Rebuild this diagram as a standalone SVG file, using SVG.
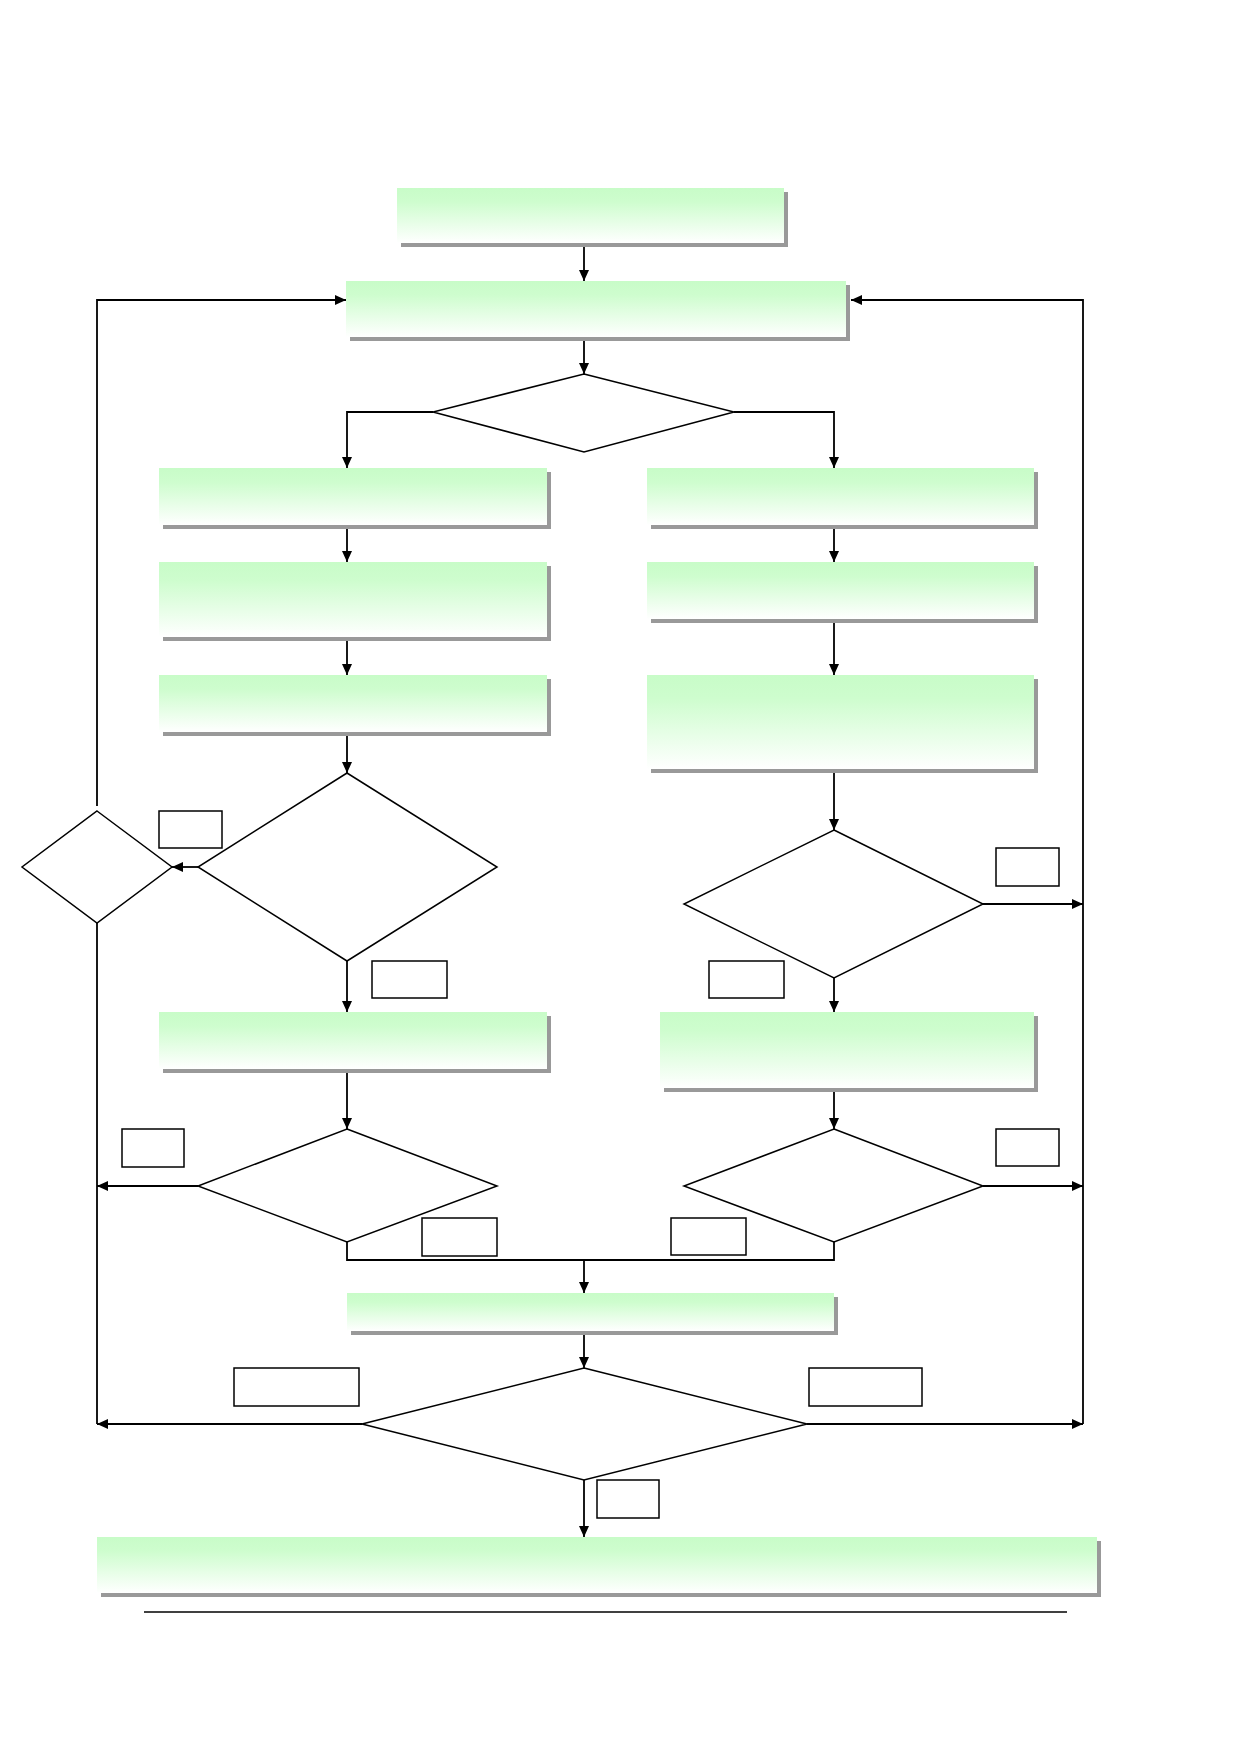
<svg xmlns="http://www.w3.org/2000/svg" width="1239" height="1752" viewBox="0 0 1239 1752">
<style>
.shadow{fill:#999999}
.box{fill:url(#g)}
.dia{fill:#ffffff;stroke:#000000;stroke-width:1.5}
.lbl{fill:#ffffff;stroke:#000000;stroke-width:1.5}
.c{fill:none;stroke:#000000;stroke-width:1.8}
.a{marker-end:url(#ah)}
</style>
<defs>
<linearGradient id="g" x1="0" y1="0" x2="0" y2="1">
<stop offset="0" stop-color="#c8fcc8"/>
<stop offset="0.25" stop-color="#cefdce"/>
<stop offset="1" stop-color="#ffffff"/>
</linearGradient>
<marker id="ah" markerUnits="userSpaceOnUse" markerWidth="12" markerHeight="10" refX="11" refY="5" orient="auto">
<path d="M0,0 L11,5 L0,10 z" fill="#000000"/>
</marker>
</defs>
<rect width="1239" height="1752" fill="#ffffff"/>

<g id="connectors">
<path class="c a" d="M584,247 V281"/>
<path class="c a" d="M97,806 V300 H346"/>
<path class="c a" d="M1083,1424 V300 H851"/>
<path class="c a" d="M584,341 V374"/>
<path class="c a" d="M433,412 H347 V468"/>
<path class="c a" d="M734,412 H834 V468"/>
<path class="c a" d="M347,529 V562"/>
<path class="c a" d="M347,641 V675"/>
<path class="c a" d="M347,736 V773"/>
<path class="c a" d="M198,867 H172"/>
<path class="c" d="M97,923 V1424"/>
<path class="c a" d="M347,961 V1012"/>
<path class="c a" d="M347,1073 V1129"/>
<path class="c a" d="M198,1186 H97"/>
<path class="c" d="M347,1242 V1260 H834 V1242"/>
<path class="c a" d="M584,1260 V1293"/>
<path class="c a" d="M834,529 V562"/>
<path class="c a" d="M834,623 V675"/>
<path class="c a" d="M834,773 V830"/>
<path class="c a" d="M983,904 H1083"/>
<path class="c a" d="M834,978 V1012"/>
<path class="c a" d="M834,1092 V1129"/>
<path class="c a" d="M983,1186 H1083"/>
<path class="c a" d="M584,1335 V1368"/>
<path class="c a" d="M362,1424 H97"/>
<path class="c a" d="M807,1424 H1083"/>
<path class="c a" d="M584,1480 V1537"/>
</g>

<g id="box-start"><rect class="shadow" x="401" y="192" width="387" height="55"/><rect class="box" x="397" y="188" width="387" height="55"/></g>
<g id="box-main"><rect class="shadow" x="350" y="285" width="500" height="56"/><rect class="box" x="346" y="281" width="500" height="56"/></g>
<g id="dec-top"><polygon class="dia" points="584,374 734,412 584,452 433,412"/></g>

<g id="box-l1"><rect class="shadow" x="163" y="472" width="388" height="57"/><rect class="box" x="159" y="468" width="388" height="57"/></g>
<g id="box-l2"><rect class="shadow" x="163" y="566" width="388" height="75"/><rect class="box" x="159" y="562" width="388" height="75"/></g>
<g id="box-l3"><rect class="shadow" x="163" y="679" width="388" height="57"/><rect class="box" x="159" y="675" width="388" height="57"/></g>
<g id="dec-l1"><polygon class="dia" points="347,773 497,867 347,961 198,867"/></g>
<g id="dec-side"><polygon class="dia" points="97,811 172,867 97,923 22,867"/></g>
<g id="box-l4"><rect class="shadow" x="163" y="1016" width="388" height="57"/><rect class="box" x="159" y="1012" width="388" height="57"/></g>
<g id="dec-l2"><polygon class="dia" points="347,1129 497,1186 347,1242 198,1186"/></g>

<g id="box-r1"><rect class="shadow" x="651" y="472" width="387" height="57"/><rect class="box" x="647" y="468" width="387" height="57"/></g>
<g id="box-r2"><rect class="shadow" x="651" y="566" width="387" height="57"/><rect class="box" x="647" y="562" width="387" height="57"/></g>
<g id="box-r3"><rect class="shadow" x="651" y="679" width="387" height="94"/><rect class="box" x="647" y="675" width="387" height="94"/></g>
<g id="dec-r1"><polygon class="dia" points="834,830 983,904 834,978 684,904"/></g>
<g id="box-r4"><rect class="shadow" x="664" y="1016" width="374" height="76"/><rect class="box" x="660" y="1012" width="374" height="76"/></g>
<g id="dec-r2"><polygon class="dia" points="834,1129 983,1186 834,1242 684,1186"/></g>

<g id="box-merge"><rect class="shadow" x="351" y="1297" width="487" height="38"/><rect class="box" x="347" y="1293" width="487" height="38"/></g>
<g id="dec-bottom"><polygon class="dia" points="584,1368 807,1424 584,1480 362,1424"/></g>
<g id="box-end"><rect class="shadow" x="101" y="1541" width="1000" height="56"/><rect class="box" x="97" y="1537" width="1000" height="56"/></g>

<g id="labels">
<rect class="lbl" x="159" y="811" width="63" height="37"/>
<rect class="lbl" x="372" y="961" width="75" height="37"/>
<rect class="lbl" x="996" y="848" width="63" height="38"/>
<rect class="lbl" x="709" y="961" width="75" height="37"/>
<rect class="lbl" x="122" y="1129" width="62" height="38"/>
<rect class="lbl" x="422" y="1218" width="75" height="38"/>
<rect class="lbl" x="996" y="1129" width="63" height="37"/>
<rect class="lbl" x="671" y="1218" width="75" height="37"/>
<rect class="lbl" x="234" y="1368" width="125" height="38"/>
<rect class="lbl" x="809" y="1368" width="113" height="38"/>
<rect class="lbl" x="597" y="1480" width="62" height="38"/>
</g>

<line x1="144" y1="1612" x2="1067" y2="1612" stroke="#000000" stroke-width="1.5"/>
</svg>
